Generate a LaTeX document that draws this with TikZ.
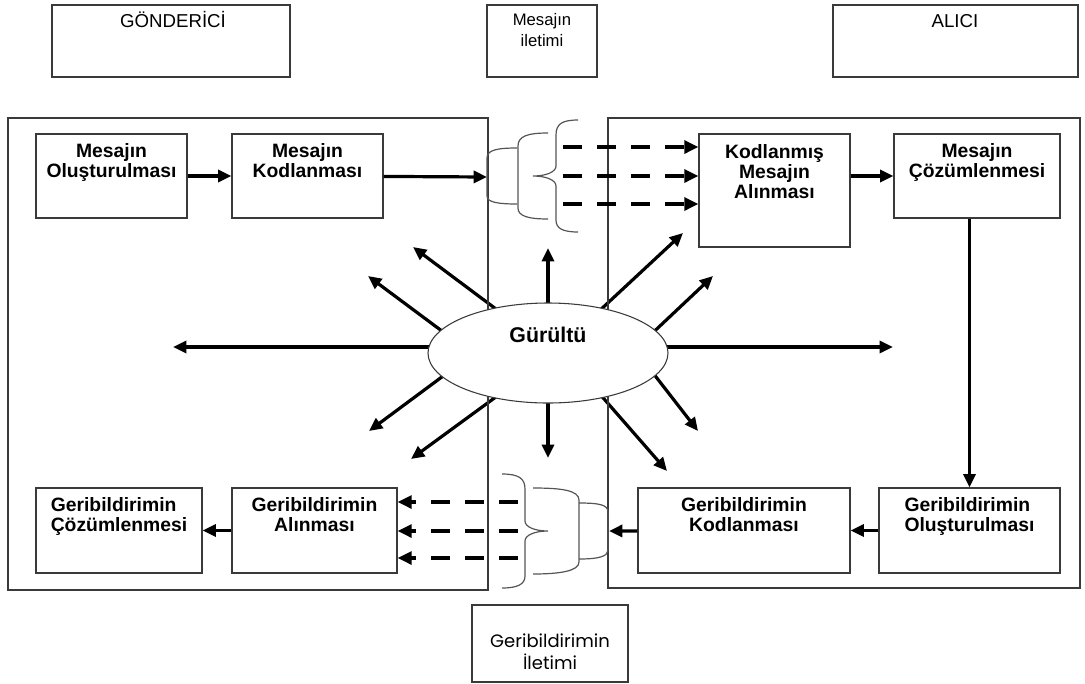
\documentclass[tikz,border=0pt]{standalone}
\usepackage{fontspec}
\setmainfont{Liberation Sans}
\newfontfamily\popfont{Poppins}
\usetikzlibrary{arrows.meta,shapes.geometric}
\pgfdeclarelayer{background}
\pgfsetlayers{background,main}
\definecolor{boxgray}{HTML}{3A3A3A}
\definecolor{bracegray}{HTML}{555555}
\newcommand{\mkbox}[5]{\node[box, minimum width={(#4-#2)*0.75pt}, minimum height={(#5-#3)*0.75pt}] (#1) at ({(#2+#4)/2},{(#3+#5)/2}) {};}
\tikzset{
  box/.style={draw=boxgray, line width=0.8pt, inner sep=0pt},
  lbl/.style={font=\bfseries\fontsize{14.5}{15}\selectfont, align=center, anchor=north, inner sep=0pt},
  toplbl/.style={font=\fontsize{14}{15}\selectfont, align=center, anchor=base, inner sep=0pt},
  arr/.style={line width=2.4pt, -{Triangle[length=10pt,width=9pt]}},
  darr/.style={line width=3.2pt, dash pattern=on 14.25pt off 11.25pt, -{Triangle[length=10.5pt,width=9.5pt]}},
  bracepath/.style={draw=bracegray, line width=0.9pt}
}
\begin{document}
\begin{tikzpicture}[x=0.75pt, y=-0.75pt]
\useasboundingbox (0,0) rectangle (1085,683);

% top header boxes
\mkbox{gon}{52}{5}{290}{77}
\mkbox{ilet}{487}{5}{597}{77}
\mkbox{alici}{833}{5}{1078}{77}
\node[toplbl] (gon-t) at (173,27) {GÖNDERİCİ};
\node[toplbl, font=\fontsize{12.5}{15.5}\selectfont] (ilet-t) at (542,46) {Mesajın\\iletimi};
\node[toplbl] (alici-t) at (955,27) {ALICI};

% frames
\mkbox{lframe}{8}{118}{488}{590}
\mkbox{rframe}{608}{118}{1080}{588}

% process boxes
\mkbox{mo}{36}{134}{187}{218}
\mkbox{mk}{232}{134}{383}{218}
\mkbox{kma}{699}{134}{850}{247}
\mkbox{mc}{894}{134}{1060}{218}
\mkbox{gk}{638}{488}{850}{573}
\mkbox{go}{879}{488}{1060}{573}
\mkbox{gc}{36}{488}{202}{573}
\mkbox{ga}{232}{488}{397}{573}
\mkbox{gi}{472}{605}{628}{682}

\node[lbl] (mo-t) at ([yshift=-7.2pt]mo.north) {Mesajın\\Oluşturulması};
\node[lbl] (mk-t) at ([yshift=-7.2pt]mk.north) {Mesajın\\Kodlanması};
\node[lbl] (kma-t) at ([yshift=-7.8pt]kma.north) {Kodlanmış\\Mesajın\\Alınması};
\node[lbl] (mc-t) at ([yshift=-7.2pt]mc.north) {Mesajın\\Çözümlenmesi};
\node[lbl] (gk-t) at ([yshift=-7.2pt]gk.north) {Geribildirimin\\Kodlanması};
\node[lbl, align=left] (go-t) at ([yshift=-7.2pt]go.north) {Geribildirimin\\Oluşturulması};
\node[lbl, align=left] (gc-t) at ([yshift=-7.2pt]gc.north) {Geribildirimin\\Çözümlenmesi};
\node[lbl] (ga-t) at ([yshift=-7.2pt]ga.north) {Geribildirimin\\Alınması};
\node[toplbl, font=\popfont\fontsize{13.5}{16}\selectfont] (gi-t) at (550,669) {Geribildirimin\\İletimi};

% noise ellipse
\node[ellipse, draw=boxgray, line width=0.8pt, fill=white, minimum width=240*0.75pt, minimum height=100*0.75pt, inner sep=0pt] (noise) at (548,353) {};
\node[font=\bfseries\fontsize{16}{18}\selectfont, anchor=base, inner sep=0pt] (noise-t) at (548,342) {Gürültü};

% noise arrows (behind the ellipse)
\begin{pgfonlayer}{background}
\foreach \sx/\sy/\tx/\ty in {548/330/548/248, 548/380/548/458, 450/347/173/347, 646/347/893/347,
  504/315/413/247, 458/343/368/276, 458/365/369/431, 504/391/411/459,
  597/313/683/233, 644/341/713/276, 646/364/698/431, 598/392/667/471}
  \draw[arr] (\sx,\sy) -- (\tx,\ty);
\end{pgfonlayer}

% top brace group
\draw[bracepath] (517,148) .. controls (497,148) and (487,150) .. (487,158) -- (487,196) .. controls (487,202) and (497,204) .. (517,204);
\draw[bracepath] (548,133) .. controls (528,133) and (518,136) .. (518,146) -- (518,208) .. controls (518,216) and (528,219) .. (548,219);
\draw[bracepath] (578,120) .. controls (562,120) and (556,124) .. (556,135) -- (556,166) .. controls (556,172) and (546,176) .. (533,176) .. controls (546,176) and (556,180) .. (556,186) -- (556,220) .. controls (556,228) and (562,232) .. (578,232);
\coordinate (b1) at (487,177);

% bottom brace group
\draw[bracepath] (502,474) .. controls (518,474) and (525,478) .. (525,489) -- (525,521) .. controls (525,527) and (535,531) .. (548,531) .. controls (535,531) and (525,535) .. (525,541) -- (525,576) .. controls (525,584) and (518,588) .. (502,588);
\draw[bracepath] (533,488) .. controls (560,488) and (579,490) .. (579,500) -- (579,562) .. controls (579,571) and (560,574) .. (533,574);
\draw[bracepath] (579,503) .. controls (600,503) and (608,505) .. (608,512) -- (608,550) .. controls (608,556) and (600,559) .. (579,559);
\coordinate (b2) at (609,531);

% solid connectors
\draw[arr] (mo) -- (mk);
\draw[arr] (mk) -- (b1);
\draw[arr] (mc.west -| kma.east) -- (mc.west);
\draw[arr] (mc.south -| go.north) -- (go.north);
\draw[arr] (go) -- (gk);
\draw[arr] (gk) -- (b2);
\draw[arr] (ga) -- (gc);

% dashed connectors
\coordinate (d1) at (563,147);
\coordinate (d2) at (563,176);
\coordinate (d3) at (563,204);
\draw[darr] (d1) -- (d1 -| kma.west);
\draw[darr] (d2) -- (d2 -| kma.west);
\draw[darr] (d3) -- (d3 -| kma.west);
\coordinate (e1) at (518,502);
\coordinate (e2) at (518,531);
\coordinate (e3) at (518,558);
\draw[darr] (e1) -- (e1 -| ga.east);
\draw[darr] (e2) -- (e2 -| ga.east);
\draw[darr] (e3) -- (e3 -| ga.east);
\end{tikzpicture}
\end{document}
